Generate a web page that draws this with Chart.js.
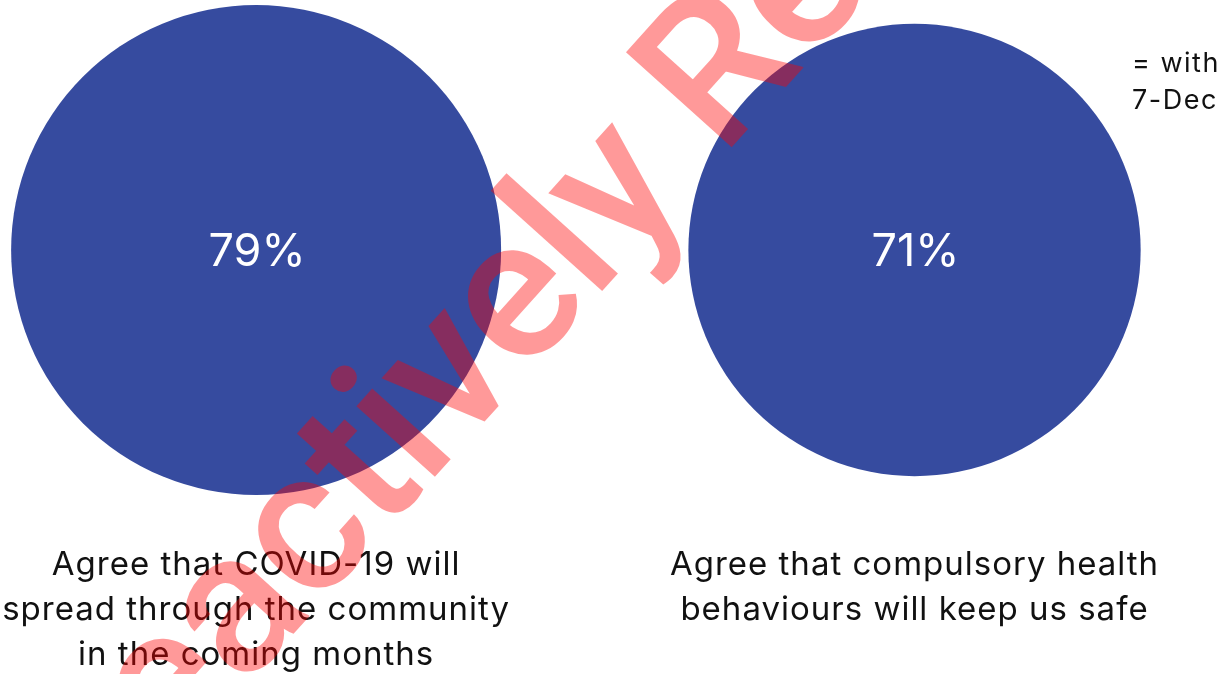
<!DOCTYPE html>
<html>
<head>
<meta charset="utf-8">
<script src="https://cdn.jsdelivr.net/npm/chart.js@4/dist/chart.umd.min.js"></script>
<style>
  html, body { margin: 0; padding: 0; background: #fff; }
  #wrap { width: 1222px; height: 674px; position: relative; overflow: hidden; }
</style>
</head>
<body>
<div id="wrap"><canvas id="bubbles"></canvas></div>
<script>
// Chart data
const statements = [
    ['Agree that COVID-19 will', 'spread through the community', 'in the coming months'],
    ['Agree that compulsory health', 'behaviours will keep us safe']
];
const agreePct = [79, 71];
const legendLines = ['= with', '7-Dec'];
const watermark = ['Reactively ', 'Re'];

const bubbleColor = '#364b9f';
const textFont = 'Inter, Roboto, sans-serif';
const maxRadius = 245;

// Bubble size scale: biggest value gets maxRadius
function bubbleRadius(v) {
    const maxPct = Math.max(...agreePct);
    return maxRadius * Math.pow(v / maxPct, 0.75);
}

// Bubble text: percentage inside, statement underneath
const bubbleText = {
    id: 'bubbleText',
    afterDatasetsDraw(chart) {
        const ctx = chart.ctx;
        const meta = chart.getDatasetMeta(0);
        ctx.save();
        ctx.textAlign = 'center';
        ctx.textBaseline = 'middle';
        meta.data.forEach((el, i) => {
            ctx.fillStyle = '#ffffff';
            ctx.font = '45px ' + textFont;
            ctx.letterSpacing = '0px';
            ctx.fillText(agreePct[i] + '%', el.x + 1, el.y + 2);

            ctx.fillStyle = '#111111';
            ctx.font = '33px ' + textFont;
            ctx.letterSpacing = '1px';
            statements[i].forEach((line, j) => {
                ctx.fillText(line, el.x, chart.chartArea.bottom + 65 + j * 45);
            });
        });

        // cut-off legend note at the right edge
        ctx.textAlign = 'left';
        ctx.font = '27px ' + textFont;
        ctx.letterSpacing = '1.5px';
        legendLines.forEach((line, j) => {
            ctx.fillText(line, 1132, 64 + j * 37);
        });
        ctx.restore();
    }
};

// Red watermark drawn over the whole picture
const watermarkPlugin = {
    id: 'watermark',
    afterDraw(chart) {
        const ctx = chart.ctx;
        ctx.save();
        ctx.translate(722, 158);
        ctx.rotate(-48 * Math.PI / 180);
        ctx.fillStyle = 'rgba(255, 0, 0, 0.4)';
        ctx.font = '500 200px Roboto, sans-serif';
        ctx.letterSpacing = '-2px';
        ctx.textBaseline = 'alphabetic';
        ctx.textAlign = 'right';
        ctx.fillText(watermark[0], 0, 0);
        ctx.textAlign = 'left';
        ctx.fillText(watermark[1], 0, 0);
        ctx.restore();
    }
};

let bubbleChart;

function initChart() {
    const canvas = document.getElementById('bubbles');
    if (!canvas) {
        console.error('Canvas element not found');
        return;
    }

    bubbleChart = new Chart(canvas, {
        type: 'bubble',
        data: {
            datasets: [{
                data: agreePct.map((v, i) => ({ x: i, y: 0, r: bubbleRadius(v) })),
                backgroundColor: bubbleColor,
                hoverBackgroundColor: bubbleColor,
                borderWidth: 0,
                clip: false
            }]
        },
        options: {
            responsive: true,
            maintainAspectRatio: false,
            animation: false,
            layout: {
                autoPadding: false,
                padding: { top: 0, left: 0, right: 0, bottom: 174 }
            },
            scales: {
                x: { type: 'linear', min: -0.389, max: 1.467, display: false },
                y: { type: 'linear', min: -1, max: 1, display: false }
            },
            plugins: {
                legend: { display: false },
                tooltip: { enabled: false }
            }
        },
        plugins: [bubbleText, watermarkPlugin]
    });
}

document.addEventListener('DOMContentLoaded', initChart);
</script>
</body>
</html>
